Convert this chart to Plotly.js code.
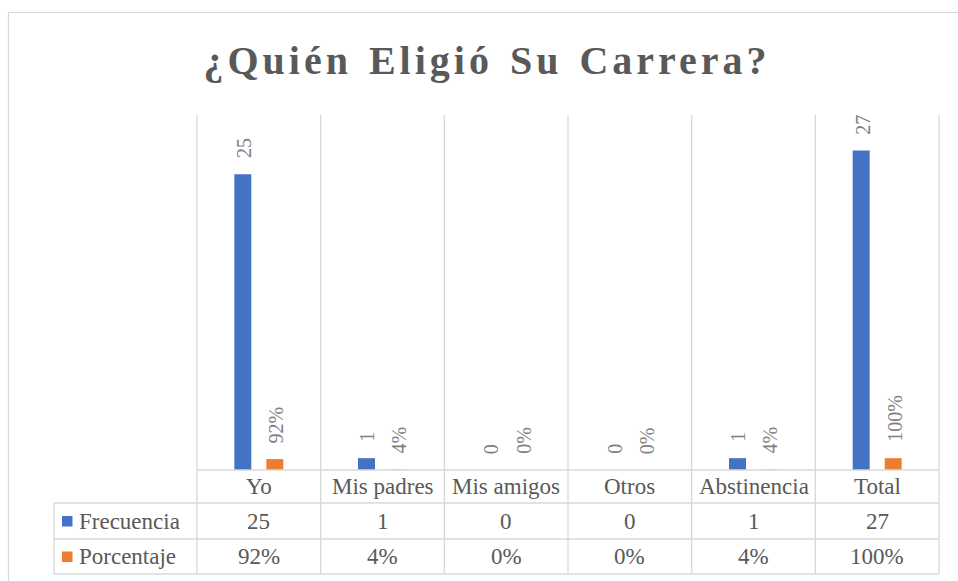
<!DOCTYPE html>
<html>
<head>
<meta charset="utf-8">
<script src="https://cdn.plot.ly/plotly-3.0.1.min.js"></script>
<style>
  html, body { margin: 0; padding: 0; background: #ffffff; }
  #chart { width: 958px; height: 581px; }
</style>
</head>
<body>
<div id="chart"></div>
<script>
// ---- data ----
const categories = ['Yo', 'Mis padres', 'Mis amigos', 'Otros', 'Abstinencia', 'Total'];
const frecuencia = [25, 1, 0, 0, 1, 27];
const porcentaje = [0.92, 0.04, 0, 0, 0.04, 1];
const seriesNames = ['Frecuencia', 'Porcentaje'];
const titleText = '¿Quién Eligió Su Carrera?';

// ---- styles / layout geometry ----
const W = 958, H = 581;
const M = { l: 197, r: 19, t: 115, b: 111 };
const PW = W - M.l - M.r, PH = H - M.t - M.b;
const px2x = px => (px - M.l) / PW;
const py2y = py => (H - M.b - py) / PH;
const colors = ['#4472C4', '#ED7D31'];
const gridColor = '#d9d9d9';
const serif = 'Liberation Serif, Times New Roman, serif';
const tableFont = () => ({ family: serif, size: 23, color: '#595959' });
const labelFont = () => ({ family: serif, size: 20, color: '#808080' });
const fmtPct = v => Math.round(v * 100) + '%';

const n = categories.length;
const slotPx = 32;          // half group width in px (style)
const labelShift = 14;      // gap between bar end and label

const traces = [
  { type: 'bar', name: seriesNames[0], x: categories, y: frecuencia,
    marker: { color: colors[0] }, hoverinfo: 'x+y' },
  { type: 'bar', name: seriesNames[1], x: categories, y: porcentaje,
    marker: { color: colors[1] }, hoverinfo: 'x+y' }
];

const shapes = [];
const annotations = [];

// outer chart border
shapes.push({ type: 'rect', xref: 'paper', yref: 'paper',
  x0: px2x(8.5), x1: px2x(975), y0: py2y(12.5), y1: py2y(600),
  line: { color: gridColor, width: 1.2 }, fillcolor: 'rgba(0,0,0,0)', layer: 'below' });

// row boundaries of the data table
const rowY = [470, 503, 539, 574];
const tableLeft = 54;
// vertical lines at category boundaries (gridlines + table columns)
for (let i = 0; i <= n; i++) {
  shapes.push({ type: 'line', xref: 'paper', yref: 'paper',
    x0: i / n, x1: i / n, y0: 1, y1: py2y(rowY[3]),
    line: { color: gridColor, width: 1.3 } });
}
// left column of the table
shapes.push({ type: 'line', xref: 'paper', yref: 'paper',
  x0: px2x(tableLeft), x1: px2x(tableLeft), y0: py2y(rowY[1]), y1: py2y(rowY[3]),
  line: { color: gridColor, width: 1.3 } });
// horizontal lines
rowY.forEach((ry, k) => {
  shapes.push({ type: 'line', xref: 'paper', yref: 'paper',
    x0: k === 0 ? 0 : px2x(tableLeft), x1: 1, y0: py2y(ry), y1: py2y(ry),
    line: { color: gridColor, width: 1.3 } });
});

// table: header row with categories
const rowMid = k => py2y((rowY[k] + rowY[k + 1]) / 2);
categories.forEach((c, i) => {
  annotations.push({ xref: 'x', yref: 'paper', x: c, y: rowMid(0), text: c,
    showarrow: false, font: tableFont(), xanchor: 'center', yanchor: 'middle' });
  annotations.push({ xref: 'x', yref: 'paper', x: c, y: rowMid(1), text: String(frecuencia[i]),
    showarrow: false, font: tableFont(), xanchor: 'center', yanchor: 'middle' });
  annotations.push({ xref: 'x', yref: 'paper', x: c, y: rowMid(2), text: fmtPct(porcentaje[i]),
    showarrow: false, font: tableFont(), xanchor: 'center', yanchor: 'middle' });
});
// series names with legend keys
seriesNames.forEach((s, k) => {
  annotations.push({ xref: 'paper', yref: 'paper', x: px2x(77), y: rowMid(k + 1), text: s,
    showarrow: false, font: tableFont(), xanchor: 'left', yanchor: 'middle' });
  const cy = (rowY[k + 1] + rowY[k + 2]) / 2;
  shapes.push({ type: 'rect', xref: 'paper', yref: 'paper',
    x0: px2x(62), x1: px2x(72.5), y0: py2y(cy - 5), y1: py2y(cy + 5.5),
    line: { width: 0 }, fillcolor: colors[k] });
});

// data labels (rotated) above bars
categories.forEach((c, i) => {
  annotations.push({ xref: 'x', yref: 'y', x: c, y: frecuencia[i], text: String(frecuencia[i]),
    showarrow: false, font: labelFont(), textangle: -90, xanchor: 'center', yanchor: 'bottom',
    xshift: -slotPx / 2 + 1, yshift: labelShift });
  annotations.push({ xref: 'x', yref: 'y', x: c, y: porcentaje[i], text: fmtPct(porcentaje[i]),
    showarrow: false, font: labelFont(), textangle: -90, xanchor: 'center', yanchor: 'bottom',
    xshift: slotPx / 2 + 1, yshift: labelShift });
});

const layout = {
  width: W, height: H,
  margin: M,
  font: { family: serif, color: '#595959' },
  paper_bgcolor: '#ffffff', plot_bgcolor: '#ffffff',
  showlegend: false,
  barmode: 'group',
  bargap: 0.4825,
  bargroupgap: 0.47,
  title: {
    text: '<b>' + titleText + '</b>',
    font: { family: serif, size: 40, color: '#595959' },
    x: 487 / W, xref: 'container', xanchor: 'center',
    y: 1 - 60 / H, yref: 'container', yanchor: 'middle'
  },
  xaxis: { type: 'category', range: [-0.5, n - 0.5], showticklabels: false,
    showgrid: false, zeroline: false, showline: false, ticks: '', fixedrange: true },
  yaxis: { range: [0, 30], showticklabels: false, showgrid: false, zeroline: false,
    showline: false, ticks: '', fixedrange: true },
  shapes: shapes,
  annotations: annotations
};

Plotly.newPlot('chart', traces, layout, { displayModeBar: false, staticPlot: true }).then(() => {
  document.querySelectorAll('.gtitle').forEach(el => {
    el.style.letterSpacing = '4px';
    el.style.wordSpacing = '3px';
  });
});
</script>
</body>
</html>
